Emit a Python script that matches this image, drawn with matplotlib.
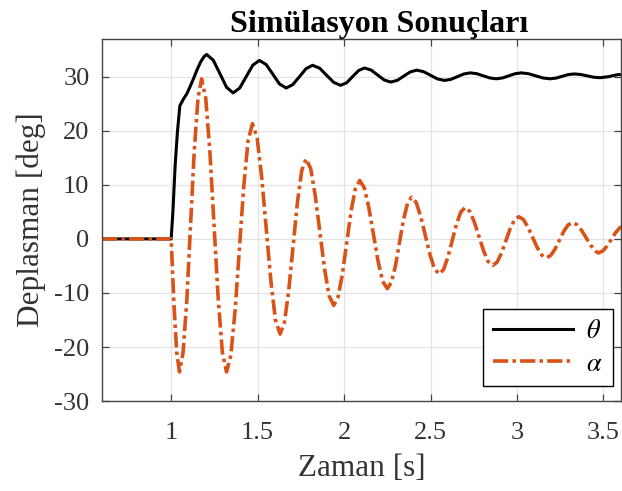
import numpy as np
import matplotlib
matplotlib.use('Agg')
from matplotlib import pyplot as plt

plt.rcParams['font.family'] = ['Liberation Serif', 'DejaVu Serif']
plt.rcParams['mathtext.fontset'] = 'stix'
plt.rcParams['lines.scale_dashes'] = False
plt.rcParams['axes.unicode_minus'] = False

# theta response [deg]
theta_t = [0.60, 1.000, 1.010, 1.023, 1.036, 1.050, 1.070, 1.090, 1.110, 1.130, 1.150, 1.170, 1.190, 1.205,
           1.243, 1.282, 1.320, 1.358, 1.396, 1.434, 1.472, 1.510, 1.549, 1.588, 1.626, 1.665,
           1.703, 1.742, 1.780, 1.818, 1.859, 1.899, 1.940, 1.980, 2.015, 2.049, 2.084, 2.118,
           2.156, 2.194, 2.232, 2.270, 2.308, 2.345, 2.383, 2.420, 2.460, 2.500, 2.540, 2.580,
           2.618, 2.655, 2.693, 2.730, 2.768, 2.805, 2.843, 2.880, 2.916, 2.953, 2.989, 3.025,
           3.066, 3.108, 3.149, 3.190, 3.225, 3.260, 3.295, 3.330, 3.368, 3.405, 3.443, 3.480,
           3.530, 3.580, 3.620]
theta_v = [0.0, 0.0, 5.0, 13.6, 19.7, 24.6, 25.8, 26.8, 28.2, 29.7, 31.3, 32.7, 33.7, 34.1,
           33.06, 30.55, 28.04, 27.0, 27.88, 30.0, 32.12, 33.0, 32.25, 30.45, 28.65, 27.9,
           28.52, 30.0, 31.48, 32.1, 31.56, 30.25, 28.94, 28.4, 28.87, 30.0, 31.13, 31.6,
           31.22, 30.3, 29.38, 29.0, 29.32, 30.1, 30.88, 31.2, 30.92, 30.25, 29.58, 29.3,
           29.5, 30.0, 30.5, 30.7, 30.54, 30.15, 29.76, 29.6, 29.76, 30.15, 30.54, 30.7,
           30.54, 30.15, 29.76, 29.6, 29.73, 30.05, 30.37, 30.5, 30.4, 30.15, 29.9, 29.8,
           30.0, 30.35, 30.4]

# alpha response [deg]
alpha_t = [0.60, 1.000, 1.016, 1.032, 1.048,
           1.069, 1.091, 1.112, 1.133, 1.155, 1.176,
           1.200, 1.224, 1.248, 1.272, 1.296, 1.320,
           1.345, 1.370, 1.395, 1.420, 1.445, 1.470,
           1.497, 1.523, 1.550, 1.577, 1.603, 1.630,
           1.655, 1.680, 1.705, 1.730, 1.755, 1.780,
           1.807, 1.833, 1.860, 1.887, 1.913, 1.940,
           1.965, 1.990, 2.015, 2.040, 2.065, 2.090,
           2.117, 2.143, 2.170, 2.197, 2.223, 2.250,
           2.273, 2.297, 2.320, 2.343, 2.367, 2.390,
           2.417, 2.443, 2.470, 2.497, 2.523, 2.550,
           2.575, 2.600, 2.625, 2.650, 2.675, 2.700,
           2.727, 2.753, 2.780, 2.807, 2.833, 2.860,
           2.885, 2.910, 2.935, 2.960, 2.985, 3.010,
           3.037, 3.063, 3.090, 3.117, 3.143, 3.170,
           3.195, 3.220, 3.245, 3.270, 3.295, 3.320,
           3.347, 3.373, 3.400, 3.427, 3.453, 3.470,
           3.495, 3.520, 3.545, 3.570, 3.595, 3.620]
alpha_v = [0.0, 0.0, -12.0, -21.0, -24.6,
           -20.97, -11.05, 2.5, 16.05, 25.97, 29.6,
           25.97, 16.05, 2.5, -11.05, -20.97, -24.6,
           -21.52, -13.13, -1.65, 9.83, 18.22, 21.3,
           18.69, 11.58, 1.85, -7.88, -14.99, -17.6,
           -15.43, -9.5, -1.4, 6.7, 12.63, 14.8,
           12.98, 8.03, 1.25, -5.53, -10.48, -12.3,
           -10.75, -6.53, -0.75, 5.03, 9.25, 10.8,
           9.46, 5.8, 0.8, -4.2, -7.86, -9.2,
           -8.07, -4.98, -0.75, 3.48, 6.57, 7.7,
           6.75, 4.15, 0.6, -2.95, -5.55, -6.5,
           -5.68, -3.43, -0.35, 2.73, 4.98, 5.8,
           5.08, 3.13, 0.45, -2.23, -4.18, -4.9,
           -4.3, -2.65, -0.4, 1.85, 3.5, 4.1,
           3.59, 2.2, 0.3, -1.6, -2.99, -3.5,
           -3.06, -1.88, -0.25, 1.38, 2.56, 3.0,
           2.62, 1.6, 0.2, -1.2, -2.22, -2.6,
           -2.27, -1.35, -0.1, 1.15, 2.07, 2.4]

xticks = [1, 1.5, 2, 2.5, 3, 3.5]
yticks = [-30, -20, -10, 0, 10, 20, 30]

fig = plt.figure(figsize=(6.22, 4.91), dpi=100)
ax = fig.add_axes([0.164, 0.183, 0.834, 0.738])

ax.plot(theta_t, theta_v, '-', color='k', lw=2.2, label=r'$\theta$')
ax.plot(alpha_t, alpha_v, color='#D95319', lw=2.6, dashes=(11, 3, 2.5, 3), label=r'$\alpha$')

ax.set_xlim(0.6, 3.6)
ax.set_ylim(-30, 37)
ax.set_xticks(xticks)
ax.set_xticklabels(['1', '1.5', '2', '2.5', '3', '3.5'])
ax.set_yticks(yticks)
ax.grid(True, color='#e3e3e3', lw=0.9)
ax.set_axisbelow(True)
for s in ax.spines.values():
    s.set_color('#444444')
    s.set_linewidth(1.0)
ax.tick_params(direction='in', top=True, right=True, length=5, width=0.9, color='#444444',
               labelsize=19, labelcolor='#333333')
ax.tick_params(axis='x', pad=15)
ax.tick_params(axis='y', pad=9)

ax.set_xlabel('Zaman [s]', fontsize=22.5, color='#333333', labelpad=7)
ax.set_ylabel('Deplasman [deg]', fontsize=22.5, color='#333333', labelpad=6)
ax.set_title('Simülasyon Sonuçları', fontsize=23, fontweight='bold', pad=5, x=0.534)

leg = ax.legend(loc='lower right', bbox_to_anchor=(1 - 8 / 519, 15 / 362), borderaxespad=0,
                fontsize=19, handlelength=3.0, handletextpad=0.5, fancybox=False,
                framealpha=1, edgecolor='k', labelspacing=0.35)
leg.get_frame().set_linewidth(1.0)

fig.savefig('out.png', dpi=100)
